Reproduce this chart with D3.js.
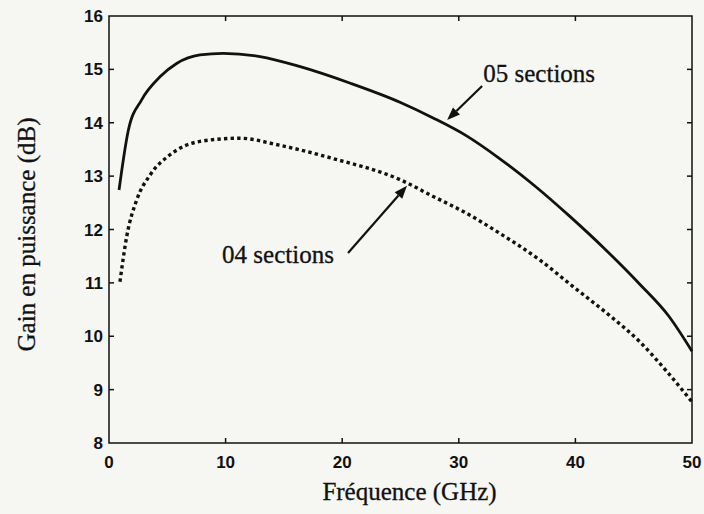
<!DOCTYPE html>
<html>
<head>
<meta charset="utf-8">
<script src="https://cdn.jsdelivr.net/npm/d3@7"></script>
<style>
  body { margin: 0; background: #f6f6f3; }
  svg { display: block; }
  .tick-label { font-family: "Liberation Sans", Arial, sans-serif; font-weight: bold; font-size: 17px; fill: #111; }
  .serif { font-family: "Liberation Serif", "Times New Roman", serif; font-size: 25px; fill: #111; stroke: #111; stroke-width: 0.3; }
</style>
</head>
<body>
<div id="chart"></div>
<script>
// 05 sections (solid)
const freq05 = [0.86, 1.66, 2.8, 4.37, 5.8, 7.8, 9.8, 12.95, 16.4, 20.7, 25.0, 27.8, 30.7, 33.5, 36.5, 39.5, 42.5, 45.5, 48.0, 50];
const gain05 = [12.74, 13.86, 14.43, 14.86, 15.11, 15.27, 15.30, 15.24, 15.05, 14.74, 14.38, 14.09, 13.75, 13.33, 12.82, 12.25, 11.64, 10.98, 10.38, 9.72];

// 04 sections (dotted)
const freq04 = [0.94, 1.52, 2.37, 3.52, 5.23, 7.8, 11.2, 14.6, 19.2, 25.0, 27.8, 30.7, 33.5, 37.0, 39.8, 42.7, 45.5, 47.8, 50];
const gain04 = [11.02, 11.87, 12.55, 13.02, 13.40, 13.65, 13.71, 13.58, 13.33, 12.93, 12.62, 12.30, 11.93, 11.42, 10.93, 10.43, 9.90, 9.35, 8.77];

const xTicks = [0, 10, 20, 30, 40, 50];
const yTicks = [8, 9, 10, 11, 12, 13, 14, 15, 16];

const labels = [
  { text: "05 sections", f: 32.1, g: 14.76 },
  { text: "04 sections", f: 9.7, g: 11.37 }
];
const arrows = [
  { f1: 32.0, g1: 14.69, f2: 29.0, g2: 14.05 },
  { f1: 20.5, g1: 11.56, f2: 25.56, g2: 12.82 }
];

const W = 704, H = 514;
const margin = { top: 16, right: 12, bottom: 71, left: 109 };

const x = d3.scaleLinear().domain([0, 50]).range([margin.left, W - margin.right]);
const y = d3.scaleLinear().domain([8, 16]).range([H - margin.bottom, margin.top]);

const svg = d3.select("#chart").append("svg").attr("width", W).attr("height", H);

// frame
svg.append("rect")
  .attr("x", x(0)).attr("y", y(16))
  .attr("width", x(50) - x(0)).attr("height", y(8) - y(16))
  .attr("fill", "none").attr("stroke", "#111").attr("stroke-width", 1.5);

// inward ticks on all four sides
const tl = 5;
xTicks.slice(1, -1).forEach((t) => {
  svg.append("line").attr("x1", x(t)).attr("x2", x(t)).attr("y1", y(8)).attr("y2", y(8) - tl).attr("stroke", "#111").attr("stroke-width", 1.5);
  svg.append("line").attr("x1", x(t)).attr("x2", x(t)).attr("y1", y(16)).attr("y2", y(16) + tl).attr("stroke", "#111").attr("stroke-width", 1.5);
});
yTicks.slice(1, -1).forEach((t) => {
  svg.append("line").attr("x1", x(0)).attr("x2", x(0) + tl).attr("y1", y(t)).attr("y2", y(t)).attr("stroke", "#111").attr("stroke-width", 1.5);
  svg.append("line").attr("x1", x(50)).attr("x2", x(50) - tl).attr("y1", y(t)).attr("y2", y(t)).attr("stroke", "#111").attr("stroke-width", 1.5);
});

// tick labels
svg.selectAll(".xl").data(xTicks).enter().append("text")
  .attr("class", "tick-label")
  .attr("x", (d) => x(d)).attr("y", y(8) + 25)
  .attr("text-anchor", "middle")
  .text((d) => d);

svg.selectAll(".yl").data(yTicks).enter().append("text")
  .attr("class", "tick-label")
  .attr("x", x(0) - 6).attr("y", (d) => y(d) + 6)
  .attr("text-anchor", "end")
  .text((d) => d);

// axis titles
svg.append("text").attr("class", "serif")
  .attr("x", (x(0) + x(50)) / 2 + 9).attr("y", H - 14)
  .attr("text-anchor", "middle")
  .text("Fréquence (GHz)");

svg.append("text").attr("class", "serif")
  .attr("transform", "translate(35," + (y(12) + 5) + ") rotate(-90)")
  .attr("text-anchor", "middle")
  .text("Gain en puissance (dB)");

// curves
const line = d3.line().x((d) => x(d[0])).y((d) => y(d[1])).curve(d3.curveMonotoneX);

svg.append("path")
  .datum(d3.zip(freq05, gain05))
  .attr("d", line)
  .attr("fill", "none").attr("stroke", "#111").attr("stroke-width", 2.8);

svg.append("path")
  .datum(d3.zip(freq04, gain04))
  .attr("d", line)
  .attr("fill", "none").attr("stroke", "#111").attr("stroke-width", 3.4)
  .attr("stroke-dasharray", "3.4,3.2");

// annotations
labels.forEach((l) => {
  svg.append("text").attr("class", "serif")
    .attr("x", x(l.f)).attr("y", y(l.g))
    .text(l.text);
});

arrows.forEach((a) => {
  const x1 = x(a.f1), y1 = y(a.g1), x2 = x(a.f2), y2 = y(a.g2);
  const ang = Math.atan2(y2 - y1, x2 - x1);
  const len = 13, half = 5;
  const bx = x2 - len * Math.cos(ang), by = y2 - len * Math.sin(ang);
  svg.append("line")
    .attr("x1", x1).attr("y1", y1).attr("x2", bx).attr("y2", by)
    .attr("stroke", "#111").attr("stroke-width", 2.2);
  const pts = [
    [x2, y2],
    [bx + half * Math.sin(ang), by - half * Math.cos(ang)],
    [bx - half * Math.sin(ang), by + half * Math.cos(ang)]
  ];
  svg.append("polygon")
    .attr("points", pts.map((p) => p.join(",")).join(" "))
    .attr("fill", "#111");
});
</script>
</body>
</html>
